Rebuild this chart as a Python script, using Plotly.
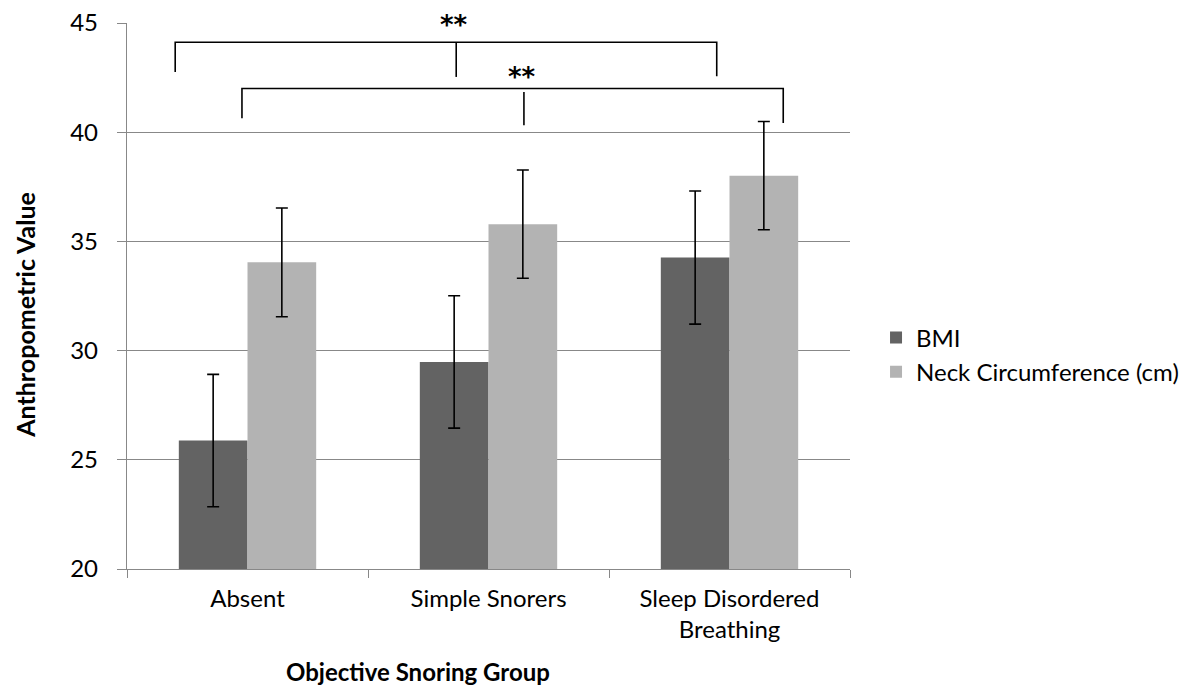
import plotly.graph_objects as go

categories = ["Absent", "Simple Snorers", "Sleep Disordered<br>Breathing"]
bmi = [25.88, 29.48, 34.26]
bmi_err = [3.03, 3.03, 3.05]
neck = [34.04, 35.79, 38.01]
neck_err = [2.49, 2.48, 2.48]

FONT = "Lato"
fig = go.Figure()
fig.add_trace(go.Bar(
    x=categories, y=bmi, name="BMI", legendgroup="a",
    marker=dict(color="#636363", line=dict(width=0)),
    error_y=dict(type="data", array=bmi_err, color="black", thickness=1.6, width=6),
))
fig.add_trace(go.Bar(
    x=categories, y=neck, name="Neck Circumference (cm)", legendgroup="b",
    marker=dict(color="#b3b3b3", line=dict(width=0)),
    error_y=dict(type="data", array=neck_err, color="black", thickness=1.6, width=6),
))

def bracket(xl, xm, xr, ytop, yl, ym_top, ym_bot, yr):
    fig.add_shape(type="path",
                  path=f"M {xl} {yl} L {xl} {ytop} L {xr} {ytop} L {xr} {yr}",
                  xref="x", yref="y", line=dict(color="black", width=1.6))
    fig.add_shape(type="line", x0=xm, x1=xm, y0=ym_top, y1=ym_bot,
                  xref="x", yref="y", line=dict(color="black", width=1.6))

bracket(-0.30, 0.866, 1.947, 44.12, 42.76, 44.12, 42.53, 42.56)
bracket(-0.023, 1.147, 2.223, 42.0, 40.64, 41.84, 40.32, 40.42)

YMIN, YMAX = 20, 45
def py(v):
    return (v - YMIN) / (YMAX - YMIN)

STAR = dict(family="DejaVu Sans", size=26, color="black")
fig.add_annotation(x=0.855, y=py(44.92), xref="x", yref="paper", text="<b>**</b>", showarrow=False,
                   yanchor="middle", font=STAR)
fig.add_annotation(x=1.14, y=py(42.54), xref="x", yref="paper", text="<b>**</b>", showarrow=False,
                   yanchor="middle", font=STAR)

fig.add_annotation(x=-0.1415, y=0.465, xref="paper", yref="paper", text="<b>Anthropometric Value</b>",
                   textangle=-90, showarrow=False, xanchor="center", yanchor="middle",
                   font=dict(family=FONT, size=25, color="black"))
fig.add_annotation(x=0.4025, y=-0.1885, xref="paper", yref="paper", text="<b>Objective Snoring Group</b>",
                   showarrow=False, xanchor="center", yanchor="middle",
                   font=dict(family=FONT, size=24, color="black"))

fig.update_layout(
    width=1189, height=685,
    margin=dict(l=127, r=339, t=23, b=116, autoexpand=False),
    paper_bgcolor="white", plot_bgcolor="white",
    barmode="group", bargap=0.43, bargroupgap=0,
    font=dict(family=FONT, size=24, color="black"),
    showlegend=True,
    legend=dict(x=1.036, y=0.392, xanchor="left", yanchor="middle",
                font=dict(family=FONT, size=24, color="black"),
                tracegroupgap=6, traceorder="normal"),
    xaxis=dict(
        automargin=False,
        showline=True, linecolor="#888888", linewidth=1.3,
        ticks="outside", tickson="boundaries", ticklen=8, tickcolor="#888888", tickwidth=1.3,
        showgrid=False, tickfont=dict(family=FONT, size=24, color="black"),
        ticklabelstandoff=8,
    ),
    yaxis=dict(
        automargin=False,
        range=[YMIN, YMAX], dtick=5, tick0=20,
        showline=True, linecolor="#888888", linewidth=1.3,
        ticks="outside", ticklen=9, tickcolor="#888888", tickwidth=1.3,
        showgrid=True, gridcolor="#888888", gridwidth=1.3, zeroline=False,
        tickfont=dict(family=FONT, size=24, color="black"),
        ticklabelstandoff=14,
    ),
)
fig.write_html("out.html")
